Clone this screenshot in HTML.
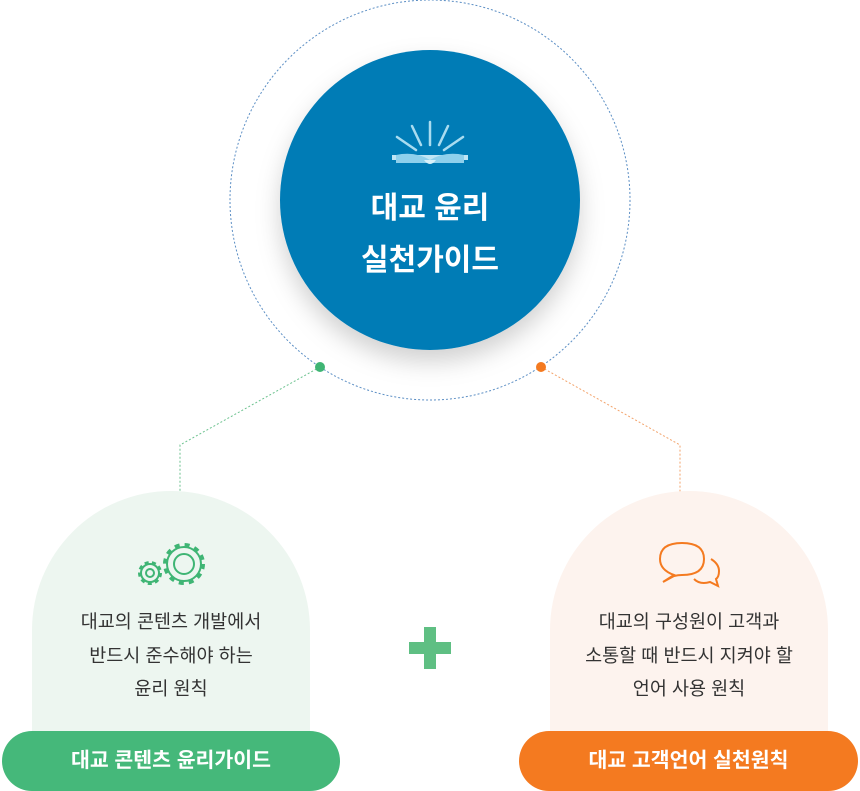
<!DOCTYPE html>
<html><head><meta charset="utf-8"><style>
body{margin:0;width:860px;height:791px;background:#fff;position:relative;overflow:hidden;font-family:"Liberation Sans","Noto Sans CJK KR",sans-serif}
.t{position:absolute;text-align:center;color:#333;font-size:18.5px;line-height:33.5px}
.btn{position:absolute;top:731px;height:60px;border-radius:30px;color:#fff;font-weight:bold;font-size:20.5px;line-height:60px;text-align:center}
</style></head><body>
<svg width="860" height="791" style="position:absolute;left:0;top:0">
<defs><filter id="sh" x="-30%" y="-30%" width="160%" height="160%"><feDropShadow dx="0" dy="12" stdDeviation="12" flood-color="#000" flood-opacity="0.18"/></filter></defs>
<circle cx="430" cy="200" r="200" fill="none" stroke="#5b8ec4" stroke-width="1" stroke-dasharray="2 2"/>
<circle cx="430" cy="200" r="150" fill="#067cb6" filter="url(#sh)"/>
<g stroke="#a9dcf0" stroke-width="2.5" stroke-linecap="round">
<line x1="430" y1="122" x2="430" y2="145"/><line x1="412" y1="126" x2="421" y2="145"/><line x1="448" y1="126" x2="439" y2="145"/><line x1="397" y1="137" x2="416" y2="150"/><line x1="463" y1="137" x2="444" y2="150"/>
</g>
<rect x="392" y="155" width="76" height="5" fill="#bfe5f5"/>
<path d="M396 155 Q415 151 430 160 Q445 151 464 155 L464 163 L396 163Z" fill="#8fd0ec"/>
<path d="M424 160 Q430 168 436 160Z" fill="#d9f1fa"/>
<text x="430" y="218" fill="#fff" font-size="30" font-weight="bold" text-anchor="middle" font-family="Liberation Sans,Noto Sans CJK KR,sans-serif">대교 윤리</text>
<text x="430" y="270" fill="#fff" font-size="30" font-weight="bold" text-anchor="middle" font-family="Liberation Sans,Noto Sans CJK KR,sans-serif">실천가이드</text>
<polyline points="320,367 180,445 180,500" fill="none" stroke="#6cc28f" stroke-dasharray="2 2"/>
<polyline points="541,367 680,445 680,500" fill="none" stroke="#f3a36b" stroke-dasharray="2 2"/>
<circle cx="320" cy="367" r="5" fill="#3fb574"/>
<circle cx="541" cy="367" r="5" fill="#f47a20"/>
<path d="M32 740 L32 630 A139 139 0 0 1 310 630 L310 740Z" fill="#edf6f0"/>
<path d="M550 740 L550 630 A139 139 0 0 1 828 630 L828 740Z" fill="#fdf3ee"/>
<g fill="none" stroke="#3fb574" stroke-width="2">
<circle cx="184" cy="564" r="10"/>
<circle cx="184" cy="564" r="17"/>
<circle cx="184" cy="564" r="19" stroke-width="4" stroke-dasharray="5 5"/>
<circle cx="150" cy="573" r="4"/>
<circle cx="150" cy="573" r="9"/>
<circle cx="150" cy="573" r="10.5" stroke-width="3" stroke-dasharray="4 3.3"/>
</g>
<g fill="none" stroke="#f47a20" stroke-width="2">
<path d="M674 575 Q660 570 660 559 Q660 543 682 543 Q704 543 704 559 Q704 575 682 575 Q678 575 674 576 L663 582Z"/>
<path d="M711 559 Q719 564 719 571 Q719 577 716 579 L718 586 L710 582 Q700 585 694 579"/>
</g>
<rect x="424" y="627" width="12" height="42" fill="#5fbf83"/>
<rect x="409" y="642" width="42" height="12" fill="#5fbf83"/>
</svg>
<div class="t" style="left:32px;width:278px;top:605px">대교의 콘텐츠 개발에서<br>반드시 준수해야 하는<br>윤리 원칙</div>
<div class="t" style="left:550px;width:278px;top:605px">대교의 구성원이 고객과<br>소통할 때 반드시 지켜야 할<br>언어 사용 원칙</div>
<div class="btn" style="left:2px;width:338px;background:#45b87a">대교 콘텐츠 윤리가이드</div>
<div class="btn" style="left:519px;width:339px;background:#f47a20">대교 고객언어 실천원칙</div>
</body></html>
